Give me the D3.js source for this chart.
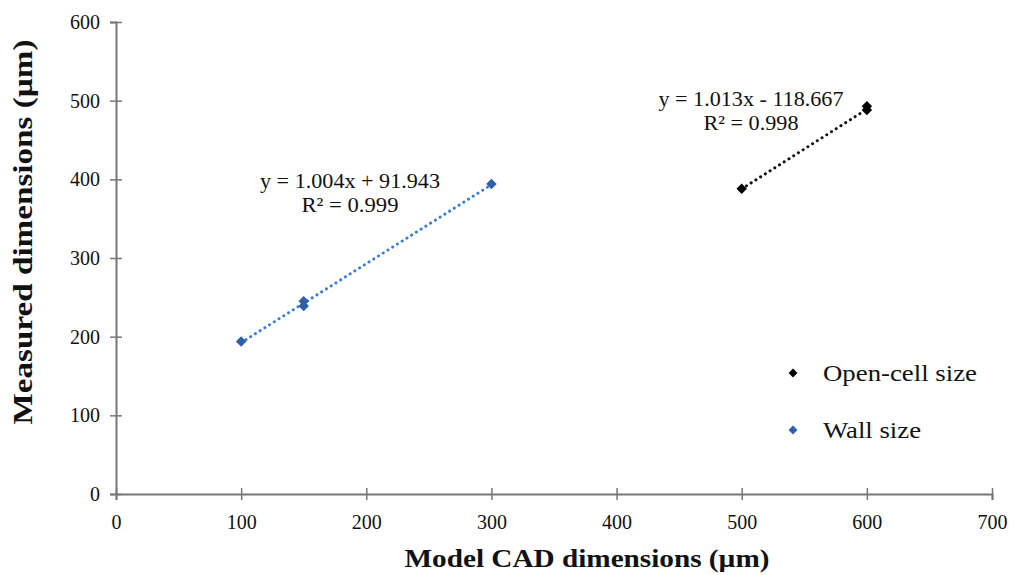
<!DOCTYPE html>
<html>
<head>
<meta charset="utf-8">
<script src="https://cdn.jsdelivr.net/npm/d3@7"></script>
<style>
  html, body { margin: 0; padding: 0; background: #fff; }
  svg { display: block; }
  text { font-family: "Liberation Serif", "DejaVu Serif", serif; fill: #111; }
</style>
</head>
<body>
<svg id="chart" width="1010" height="575"></svg>
<script>
// Measured vs. model dimensions for the printed lattice
const openCellX = [500, 600, 600];
const openCellY = [388, 493, 488];
const wallX = [100, 150, 150, 300];
const wallY = [194, 245, 239, 394];

// Linear fit coefficients [slope, intercept] and R² for each series
const openCellFit = [1.013, -118.667];
const openCellR2 = 0.998;
const wallFit = [1.004, 91.943];
const wallR2 = 0.999;

const xTicks = [0, 100, 200, 300, 400, 500, 600, 700];
const yTicks = [0, 100, 200, 300, 400, 500, 600];
const seriesNames = ["Open-cell size", "Wall size"];

const svg = d3.select("#chart");
const margin = { left: 116, right: 18, top: 22, bottom: 81 };
const W = 1010, H = 575;

const x = d3.scaleLinear().domain([0, 700]).range([margin.left, W - margin.right]);
const y = d3.scaleLinear().domain([0, 600]).range([H - margin.bottom, margin.top]);

const axisColor = "#777";
const serif = '"Liberation Serif", serif';

// y axis
const gy = svg.append("g").attr("transform", `translate(${x(0)},0)`)
  .call(d3.axisLeft(y).tickValues(yTicks).tickSize(6).tickPadding(10));
gy.select(".domain").attr("stroke", axisColor).attr("stroke-width", 2);
gy.selectAll(".tick line").attr("stroke", axisColor).attr("stroke-width", 1.5).attr("x2", 6).attr("x1", -6);
gy.selectAll(".tick text").style("font-family", serif).style("font-size", "20px").attr("fill", "#222");

// x axis
const gx = svg.append("g").attr("transform", `translate(0,${y(0)})`)
  .call(d3.axisBottom(x).tickValues(xTicks).tickSize(6).tickPadding(15));
gx.select(".domain").attr("stroke", axisColor).attr("stroke-width", 2);
gx.selectAll(".tick line").attr("stroke", axisColor).attr("stroke-width", 1.5).attr("y1", -6).attr("y2", 6);
gx.selectAll(".tick text").style("font-family", serif).style("font-size", "20px").attr("fill", "#222");

// axis titles
svg.append("text")
  .attr("x", (x(0) + x(700)) / 2 + 33).attr("y", 567)
  .attr("text-anchor", "middle")
  .attr("textLength", 365).attr("lengthAdjust", "spacingAndGlyphs")
  .style("font-size", "26px").style("font-weight", "bold")
  .text("Model CAD dimensions (µm)");

svg.append("text")
  .attr("transform", `translate(32,${232}) rotate(-90)`)
  .attr("text-anchor", "middle")
  .attr("textLength", 385).attr("lengthAdjust", "spacingAndGlyphs")
  .style("font-size", "27px").style("font-weight", "bold")
  .text("Measured dimensions (µm)");

// dotted trend lines drawn from the fitted coefficients
function trend(fit, xs, color) {
  const x0 = d3.min(xs), x1 = d3.max(xs);
  svg.append("line")
    .attr("x1", x(x0)).attr("y1", y(fit[0] * x0 + fit[1]))
    .attr("x2", x(x1)).attr("y2", y(fit[0] * x1 + fit[1]))
    .attr("stroke", color).attr("stroke-width", 3)
    .attr("stroke-dasharray", "0.1 5.5").attr("stroke-linecap", "round");
}
trend(wallFit, wallX, "#3b7dd0");
trend(openCellFit, openCellX, "#111");

// diamond markers
const diamond = d3.symbol().type(d3.symbolDiamond2).size(70);
function markers(xs, ys, color) {
  svg.append("g").selectAll("path").data(xs).join("path")
    .attr("d", diamond)
    .attr("transform", (d, i) => `translate(${x(d)},${y(ys[i])})`)
    .attr("fill", color);
}
markers(wallX, wallY, "#2f5fa8");
markers(openCellX, openCellY, "#000");

// fit equations
function fitLabel(fit, r2, cx, by, w1, w2) {
  const sign = fit[1] < 0 ? " - " : " + ";
  const g = svg.append("g").attr("text-anchor", "middle").style("font-size", "22px");
  g.append("text").attr("x", cx).attr("y", by)
    .attr("textLength", w1).attr("lengthAdjust", "spacingAndGlyphs")
    .text(`y = ${fit[0].toFixed(3)}x${sign}${Math.abs(fit[1]).toFixed(3)}`);
  g.append("text").attr("x", cx).attr("y", by + 24)
    .attr("textLength", w2).attr("lengthAdjust", "spacingAndGlyphs")
    .text(`R² = ${r2.toFixed(3)}`);
}
fitLabel(wallFit, wallR2, 350, 188, 180, 97);
fitLabel(openCellFit, openCellR2, 751, 106, 185, 95);

// legend
const legend = svg.append("g");
const legendColors = ["#000", "#2f5fa8"];
const legendWidths = [154, 98];
seriesNames.forEach((name, i) => {
  const ly = 373 + i * 57;
  legend.append("path").attr("d", d3.symbol().type(d3.symbolDiamond2).size(50))
    .attr("transform", `translate(793,${ly})`).attr("fill", legendColors[i]);
  legend.append("text").attr("x", 823).attr("y", ly + 8)
    .attr("textLength", legendWidths[i]).attr("lengthAdjust", "spacingAndGlyphs")
    .style("font-size", "24px").text(name);
});
</script>
</body>
</html>
